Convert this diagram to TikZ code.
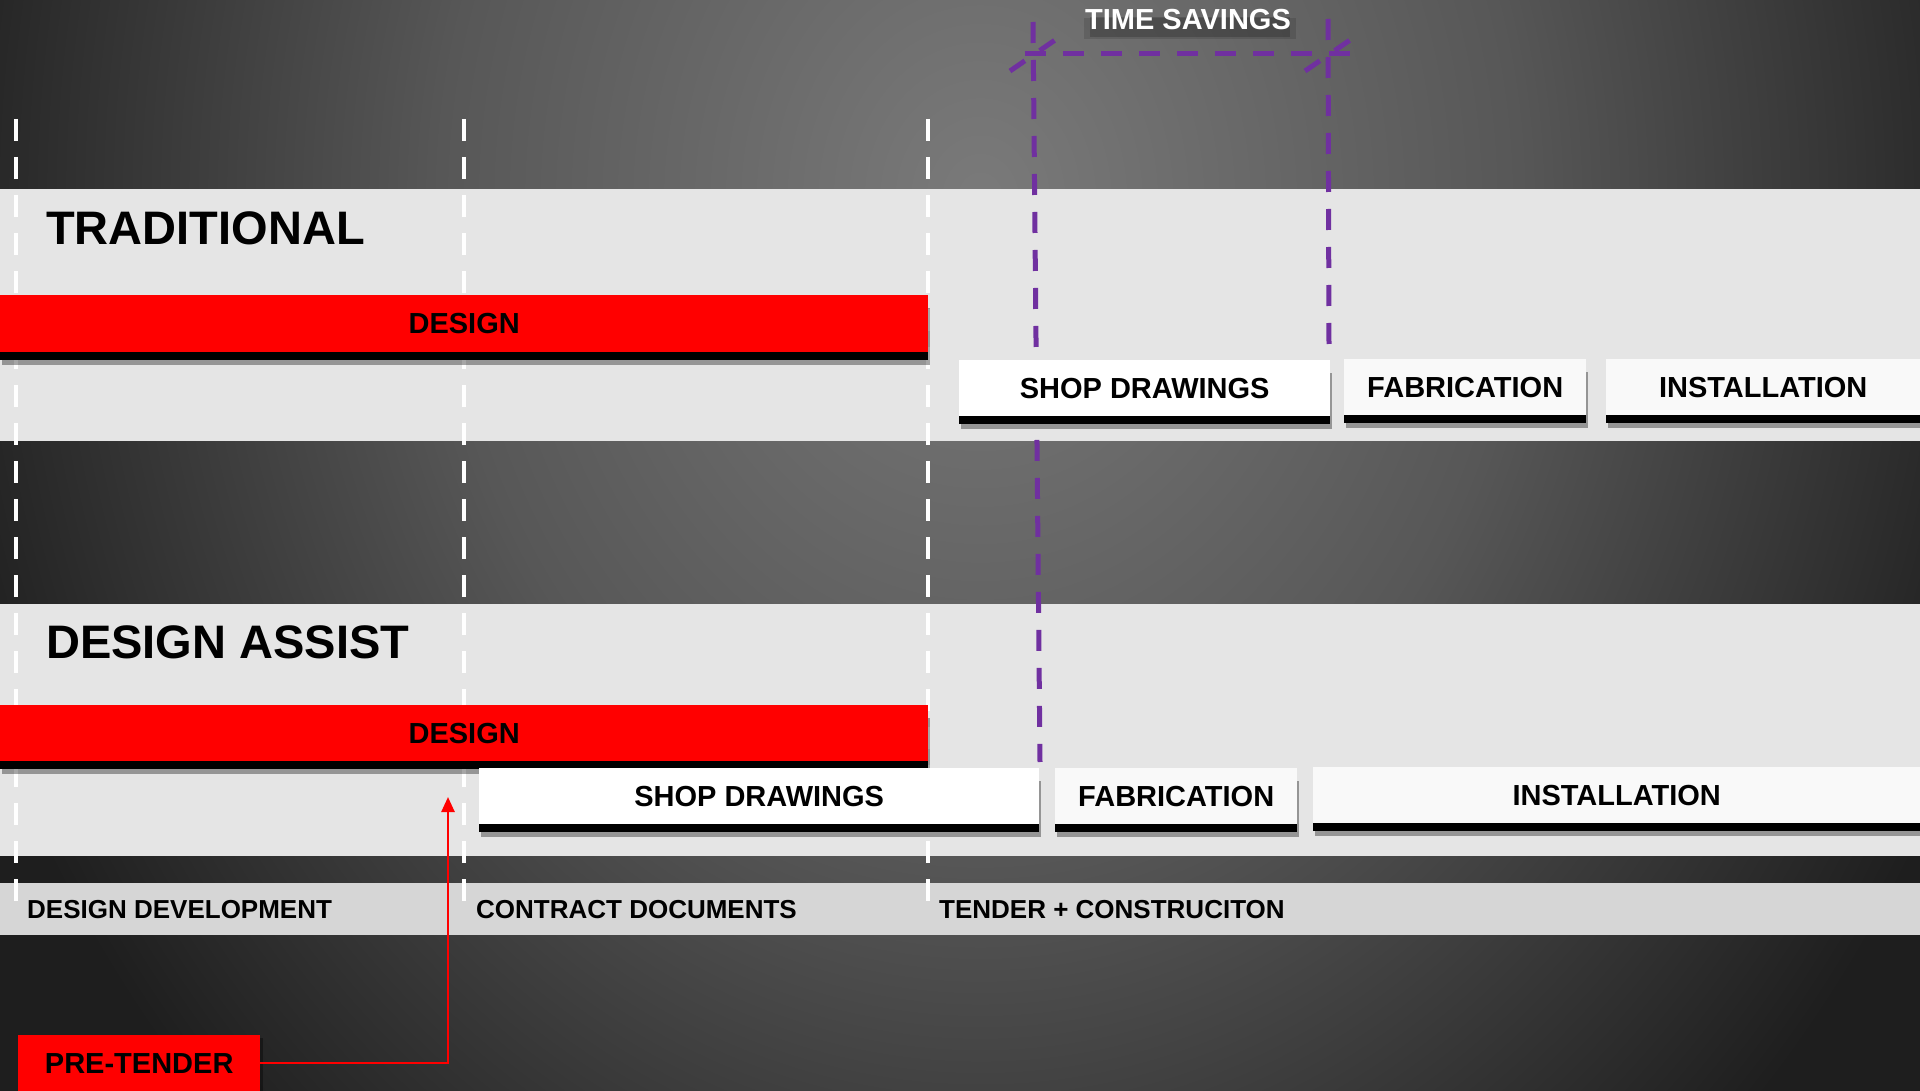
\documentclass[tikz,border=0pt]{standalone}
\usepackage{fontspec}
\setmainfont{Liberation Sans}
\usetikzlibrary{arrows.meta,shadows}
\definecolor{bgin}{HTML}{7A7A7A}
\definecolor{bgmid}{HTML}{575757}
\definecolor{bgout}{HTML}{1E1E1E}
\definecolor{bandgrey}{HTML}{E5E5E5}
\definecolor{phasegrey}{HTML}{D6D6D6}
\definecolor{tsviolet}{HTML}{7030A0}
\definecolor{offwhite}{HTML}{F9F9F9}
\pgfdeclareradialshading{bgshade}{\pgfpoint{0bp}{0bp}}{color(0bp)=(bgin); color(12.5bp)=(bgmid); color(25bp)=(bgout); color(50bp)=(bgout)}
\begin{document}
\begin{tikzpicture}[x=1pt,y=-1pt,
  lbl/.style={font=\fontsize{29}{31}\selectfont\bfseries, text=black, inner sep=0pt},
  boxshadow/.style={general shadow={fill=black, opacity=0.35, shadow xshift=1.5pt, shadow yshift=-13pt},
                    general shadow={fill=black, shadow yshift=-8pt}},
  redbar/.style={lbl, fill=red, boxshadow, anchor=north west},
  whitebox/.style={lbl, fill=white, boxshadow, anchor=north west},
  greybox/.style={lbl, fill=offwhite, boxshadow, anchor=north west},
  title/.style={font=\fontsize{47}{50}\selectfont\bfseries, text=black, inner sep=0pt, anchor=west},
  phase/.style={font=\fontsize{26}{28}\selectfont\bfseries, text=black, inner sep=0pt, anchor=west},
  guide/.style={draw=white, line width=4pt, dash pattern=on 22pt off 16pt},
  tsline/.style={draw=tsviolet, line width=5pt, dash pattern=on 21pt off 17pt},
  tsslash/.style={draw=tsviolet, line width=5pt, dash pattern=on 18pt off 18pt},
  tstext/.style={font=\fontsize{29}{31}\selectfont\bfseries, text=white, inner sep=0pt,
                 general shadow={fill=black, opacity=0.12, rounded corners=8pt, shadow yshift=-8pt, shadow xshift=2pt, shadow scale=1.03},
                 general shadow={fill=black, opacity=0.18, rounded corners=6pt, shadow yshift=-7pt, shadow xshift=2pt, shadow scale=0.97}},
  ptbox/.style={lbl, fill=red, anchor=north west,
                general shadow={fill=black, opacity=0.35, shadow xshift=3pt, shadow yshift=-3pt}},
  ptline/.style={draw=red, line width=2.5pt, -{Triangle[width=13pt,length=15pt]}}
]
\useasboundingbox (0,0) rectangle (1920,1091);
% background
\fill[bgout] (0,0) rectangle (1920,1091);
\begin{scope}
  \clip (0,0) rectangle (1920,1091);
  \shade[shading=bgshade] (980,200) ellipse [x radius=1080, y radius=1300];
\end{scope}
% bands
\fill[bandgrey] (0,189) rectangle (1920,441);
\fill[bandgrey] (0,604) rectangle (1920,856);
\fill[phasegrey] (0,883) rectangle (1920,935);
% white phase guides
\coordinate (g1a) at (16,119);  \coordinate (g1b) at (16,902);
\coordinate (g2a) at (464,119); \coordinate (g2b) at (464,902);
\coordinate (g3a) at (928,119); \coordinate (g3b) at (928,902);
\draw[guide] (g1a) -- (g1b);
\draw[guide] (g2a) -- (g2b);
\draw[guide] (g3a) -- (g3b);
% time savings markers
\coordinate (tsL1) at (1033,22);  \coordinate (tsL2) at (1040,762);
\coordinate (tsR1) at (1328,19);  \coordinate (tsR2) at (1329,346);
\coordinate (tsH1) at (1025,54);  \coordinate (tsH2) at (1352,54);
\coordinate (tsS1a) at (1010,71); \coordinate (tsS1b) at (1058,38);
\coordinate (tsS2a) at (1305,71); \coordinate (tsS2b) at (1353,38);
\draw[tsline] (tsL1) -- (tsL2);
\draw[tsline] (tsR1) -- (tsR2);
\draw[tsline] (tsH1) -- (tsH2);
\draw[tsslash] (tsS1a) -- (tsS1b);
\draw[tsslash] (tsS2a) -- (tsS2b);
\node[tstext] (tsav) at (1188,20) {TIME SAVINGS};
% traditional
\node[title] (trad) at (46,228) {TRADITIONAL};
\node[redbar, minimum width=928pt, minimum height=57pt] (tdesign) at (0,295) {DESIGN};
\node[whitebox, minimum width=371pt, minimum height=56pt] (tshop) at (959,360) {SHOP DRAWINGS};
\node[greybox, minimum width=242pt, minimum height=56pt] (tfab) at (1344,359) {FABRICATION};
\node[greybox, minimum width=314pt, minimum height=56pt] (tinst) at (1606,359) {INSTALLATION};
% design assist
\node[title] (dassist) at (46,642) {DESIGN ASSIST};
\node[redbar, minimum width=928pt, minimum height=56pt] (ddesign) at (0,705) {DESIGN};
\node[whitebox, minimum width=560pt, minimum height=56pt] (dshop) at (479,768) {SHOP DRAWINGS};
\node[greybox, minimum width=242pt, minimum height=56pt] (dfab) at (1055,768) {FABRICATION};
\node[greybox, minimum width=607pt, minimum height=56pt] (dinst) at (1313,767) {INSTALLATION};
% phases
\node[phase] (pdd) at (27,910) {DESIGN DEVELOPMENT};
\node[phase] (pcd) at (476,910) {CONTRACT DOCUMENTS};
\node[phase] (ptc) at (939,910) {TENDER + CONSTRUCITON};
% pre-tender
\node[ptbox, minimum width=242pt, minimum height=56pt] (pretender) at (18,1035) {PRE-TENDER};
\coordinate (ptarrow) at (448,797);
\draw[ptline] (pretender.east) -| (ptarrow);
\end{tikzpicture}
\end{document}
